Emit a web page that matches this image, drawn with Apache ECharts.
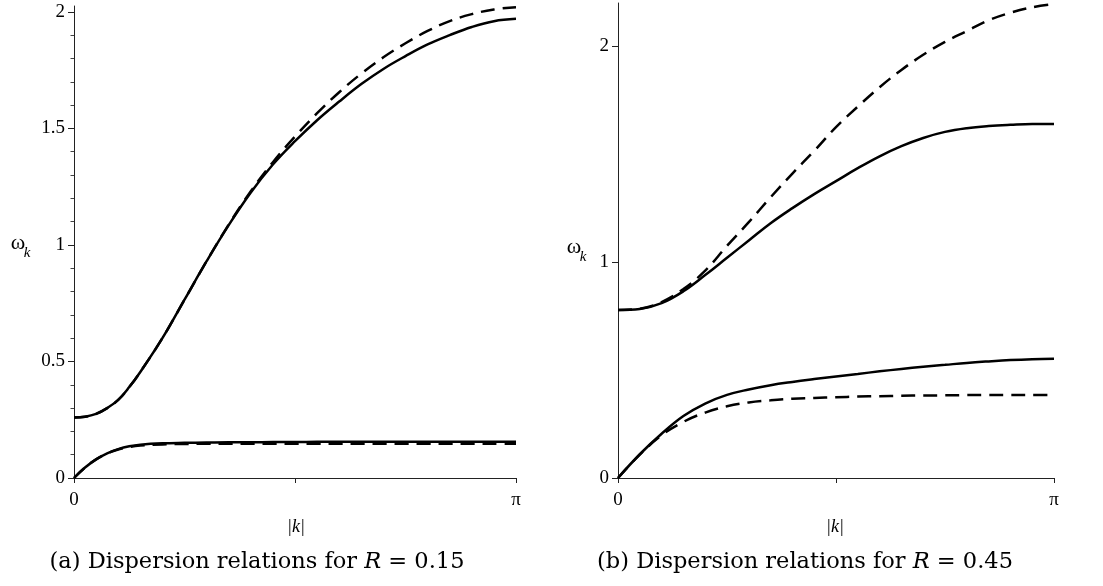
<!DOCTYPE html>
<html>
<head>
<meta charset="utf-8">
<script src="https://cdn.jsdelivr.net/npm/echarts@6/dist/echarts.min.js"></script>
<style>
  html, body { margin: 0; padding: 0; background: #fff; }
  #main { width: 1103px; height: 586px; }
</style>
</head>
<body>
<div id="main"></div>
<script>
// |k| sample positions, as fraction of pi
var leftFrac  = [0, 0.025, 0.05, 0.075, 0.1, 0.125, 0.15, 0.2, 0.25, 0.3, 0.35, 0.4, 0.45, 0.5, 0.55, 0.6, 0.65, 0.7, 0.75, 0.8, 0.85, 0.9, 0.95, 1];
var rightFrac = [0, 0.05, 0.1, 0.15, 0.2, 0.25, 0.3, 0.35, 0.4, 0.45, 0.5, 0.55, 0.6, 0.65, 0.7, 0.75, 0.8, 0.85, 0.9, 0.95, 1];

// (a) R = 0.15
var aUpperSolid  = [0.26, 0.263, 0.275, 0.30, 0.335, 0.39, 0.455, 0.60, 0.765, 0.93, 1.085, 1.225, 1.345, 1.445, 1.535, 1.615, 1.69, 1.755, 1.81, 1.86, 1.90, 1.935, 1.96, 1.97];
var aUpperDashed = [0.26, 0.263, 0.275, 0.30, 0.335, 0.39, 0.455, 0.60, 0.765, 0.93, 1.087, 1.23, 1.355, 1.465, 1.565, 1.655, 1.735, 1.805, 1.865, 1.918, 1.96, 1.99, 2.01, 2.02];
var aLowerSolid  = [0, 0.045, 0.08, 0.106, 0.124, 0.136, 0.143, 0.149, 0.151, 0.152, 0.153, 0.153, 0.154, 0.154, 0.155, 0.155, 0.155, 0.156, 0.156, 0.156, 0.156, 0.156, 0.156, 0.156];
var aLowerDashed = [0, 0.045, 0.08, 0.105, 0.122, 0.133, 0.139, 0.144, 0.146, 0.147, 0.147, 0.147, 0.147, 0.147, 0.147, 0.147, 0.147, 0.147, 0.147, 0.147, 0.147, 0.147, 0.147, 0.147];

// (b) R = 0.45
var bUpperSolid  = [0.778, 0.783, 0.81, 0.865, 0.94, 1.02, 1.10, 1.18, 1.25, 1.315, 1.375, 1.435, 1.49, 1.537, 1.575, 1.603, 1.62, 1.63, 1.636, 1.64, 1.64];
var bUpperDashed = [0.778, 0.784, 0.815, 0.875, 0.96, 1.075, 1.185, 1.30, 1.41, 1.515, 1.625, 1.72, 1.81, 1.89, 1.96, 2.02, 2.07, 2.12, 2.155, 2.18, 2.195];
var bLowerSolid  = [0, 0.11, 0.205, 0.287, 0.345, 0.385, 0.41, 0.43, 0.445, 0.458, 0.47, 0.482, 0.494, 0.505, 0.515, 0.524, 0.533, 0.54, 0.546, 0.55, 0.552];
var bLowerDashed = [0, 0.108, 0.198, 0.26, 0.303, 0.332, 0.35, 0.36, 0.367, 0.371, 0.374, 0.377, 0.379, 0.381, 0.382, 0.383, 0.384, 0.385, 0.385, 0.385, 0.385];

// axis ticks
var aMajorTicks = [0, 0.5, 1, 1.5, 2];
var aMinorTicks = [0.1, 0.2, 0.3, 0.4, 0.6, 0.7, 0.8, 0.9, 1.1, 1.2, 1.3, 1.4, 1.6, 1.7, 1.8, 1.9];
var bMajorTicks = [0, 1, 2];
var kTicks = [0, Math.PI / 2, Math.PI];
var kLabels = [0, Math.PI];

var FONT = '"Liberation Serif", "Times New Roman", serif';
var CAPFONT = '"DejaVu Serif", serif';

function pairs(frac, vals) {
    return frac.map(function (f, i) { return [f * Math.PI, vals[i]]; });
}

var myChart = echarts.init(document.getElementById('main'));

function xAxisFor(gridIndex) {
    return {
        type: 'value', gridIndex: gridIndex, min: 0, max: Math.PI,
        axisLine: { onZero: false, lineStyle: { color: '#222', width: 1 } },
        axisTick: { customValues: kTicks, length: 5, lineStyle: { color: '#222' } },
        axisLabel: {
            customValues: kLabels, margin: 13, fontSize: 19, color: '#000', fontFamily: FONT,
            formatter: function (v) { return v === 0 ? '0' : 'π'; }
        },
        splitLine: { show: false }
    };
}

function curve(name, xi, frac, vals, dashed) {
    return {
        name: name, type: 'line', xAxisIndex: xi, yAxisIndex: xi === 0 ? 0 : 2,
        data: pairs(frac, vals), smooth: 0.4,
        symbol: 'none', silent: true,
        lineStyle: { color: '#000', width: 2.5, type: dashed ? [14, 8] : 'solid' }
    };
}

option = {
    animation: false,
    backgroundColor: '#fff',
    textStyle: { fontFamily: FONT },
    grid: [
        { left: 74, top: 6, width: 442, height: 472 },
        { left: 618, top: 3, width: 436, height: 475 }
    ],
    xAxis: [xAxisFor(0), xAxisFor(1)],
    yAxis: [
        {
            type: 'value', gridIndex: 0, min: 0, max: 2.025, position: 'left',
            axisLine: { show: true, lineStyle: { color: '#222', width: 1 } },
            axisTick: { show: true, customValues: aMajorTicks, length: 6, lineStyle: { color: '#222' } },
            axisLabel: { customValues: aMajorTicks, margin: 9, fontSize: 19, color: '#000', fontFamily: FONT },
            splitLine: { show: false }
        },
        {
            type: 'value', gridIndex: 0, min: 0, max: 2.025, position: 'left', offset: 0,
            axisLine: { show: false },
            axisTick: { show: true, customValues: aMinorTicks, length: 3.5, lineStyle: { color: '#444' } },
            axisLabel: { show: false },
            splitLine: { show: false }
        },
        {
            type: 'value', gridIndex: 1, min: 0, max: 2.2, position: 'left',
            axisLine: { show: true, lineStyle: { color: '#222', width: 1 } },
            axisTick: { show: true, customValues: bMajorTicks, length: 6, lineStyle: { color: '#222' } },
            axisLabel: { customValues: bMajorTicks, margin: 9, fontSize: 19, color: '#000', fontFamily: FONT },
            splitLine: { show: false }
        }
    ],
    series: [
        curve('a upper', 0, leftFrac, aUpperSolid, false),
        curve('a upper dashed', 0, leftFrac, aUpperDashed, true),
        curve('a lower', 0, leftFrac, aLowerSolid, false),
        curve('a lower dashed', 0, leftFrac, aLowerDashed, true),
        curve('b upper', 1, rightFrac, bUpperSolid, false),
        curve('b upper dashed', 1, rightFrac, bUpperDashed, true),
        curve('b lower', 1, rightFrac, bLowerSolid, false),
        curve('b lower dashed', 1, rightFrac, bLowerDashed, true)
    ],
    graphic: [
        // omega_k labels
        { type: 'text', x: 18, y: 243, style: { text: 'ω', font: '22px ' + FONT, fill: '#000', align: 'center', verticalAlign: 'middle' } },
        { type: 'text', x: 27, y: 253, style: { text: 'k', font: 'italic 15px ' + FONT, fill: '#000', align: 'center', verticalAlign: 'middle' } },
        { type: 'text', x: 574, y: 247, style: { text: 'ω', font: '22px ' + FONT, fill: '#000', align: 'center', verticalAlign: 'middle' } },
        { type: 'text', x: 583, y: 257, style: { text: 'k', font: 'italic 15px ' + FONT, fill: '#000', align: 'center', verticalAlign: 'middle' } },
        // |k| labels
        { type: 'text', x: 296, y: 527, style: { text: '|k|', font: 'italic 18px ' + FONT, fill: '#000', align: 'center', verticalAlign: 'middle' } },
        { type: 'text', x: 835, y: 527, style: { text: '|k|', font: 'italic 18px ' + FONT, fill: '#000', align: 'center', verticalAlign: 'middle' } },
        // captions
        {
            type: 'text', x: 257, y: 562,
            style: {
                text: '(a) Dispersion relations for {i|R} = 0.15',
                font: '22.5px ' + CAPFONT, fill: '#000', align: 'center', verticalAlign: 'middle',
                rich: { i: { fontStyle: 'italic', fontSize: 22.5, fontFamily: CAPFONT } }
            }
        },
        {
            type: 'text', x: 805, y: 562,
            style: {
                text: '(b) Dispersion relations for {i|R} = 0.45',
                font: '22.5px ' + CAPFONT, fill: '#000', align: 'center', verticalAlign: 'middle',
                rich: { i: { fontStyle: 'italic', fontSize: 22.5, fontFamily: CAPFONT } }
            }
        }
    ]
};

myChart.setOption(option);
</script>
</body>
</html>
